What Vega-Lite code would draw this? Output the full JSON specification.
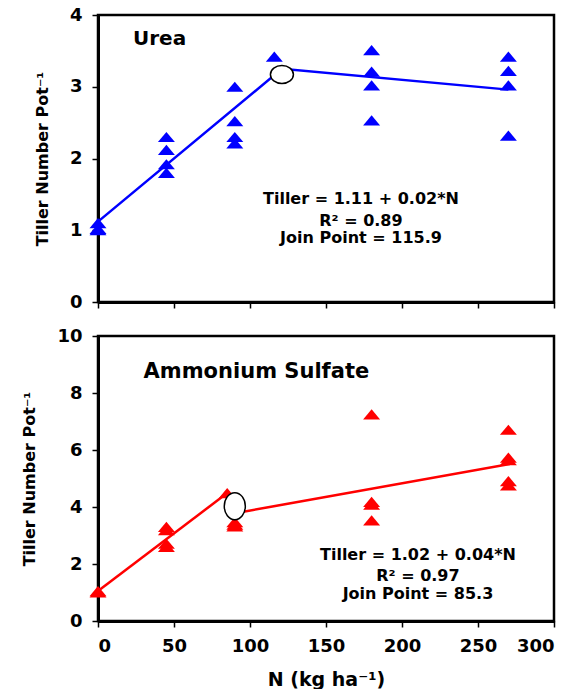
{
  "$schema": "https://vega.github.io/schema/vega-lite/v6.json",
  "padding": {"left": 20, "top": 4, "right": 5, "bottom": 5},
  "background": "white",
  "spacing": 12,
  "config": {
    "font": "DejaVu Sans",
    "view": {"stroke": "black", "strokeWidth": 2.5},
    "axis": {
      "domainColor": "black", "domainWidth": 3,
      "tickColor": "black", "tickWidth": 1.5, "tickSize": 6,
      "labelFont": "DejaVu Sans", "labelFontWeight": "bold", "labelFontSize": 18, "labelColor": "black",
      "titleFont": "DejaVu Sans", "titleFontWeight": "bold", "titleFontSize": 16, "titleColor": "black",
      "grid": false, "labelPadding": 10
    }
  },
  "vconcat": [
    {
      "width": 456, "height": 287,
      "encoding": {
        "x": {"field": "N", "type": "quantitative", "scale": {"domain": [0, 300], "nice": false},
              "axis": {"values": [0, 50, 100, 150, 200, 250, 300], "labels": false, "title": null}},
        "y": {"field": "T", "type": "quantitative", "scale": {"domain": [0, 4], "nice": false},
              "axis": {"values": [0, 1, 2, 3, 4], "title": "Tiller Number Pot⁻¹", "titlePadding": 19}}
      },
      "layer": [
        {
          "data": {"values": [{"N": 0, "T": 1.12}, {"N": 121, "T": 3.25}, {"N": 270, "T": 2.96}]},
          "mark": {"type": "line", "color": "#0000FF", "strokeWidth": 2.5}
        },
        {
          "data": {"values": [
            {"N": 0, "T": 1.0}, {"N": 0, "T": 1.02}, {"N": 0, "T": 1.1},
            {"N": 45, "T": 2.3}, {"N": 45, "T": 2.12}, {"N": 45, "T": 1.92}, {"N": 45, "T": 1.8},
            {"N": 90, "T": 3.0}, {"N": 90, "T": 2.52}, {"N": 90, "T": 2.3}, {"N": 90, "T": 2.21},
            {"N": 116, "T": 3.42},
            {"N": 180, "T": 3.51}, {"N": 180, "T": 3.21}, {"N": 180, "T": 3.02}, {"N": 180, "T": 2.53},
            {"N": 270, "T": 3.42}, {"N": 270, "T": 3.22}, {"N": 270, "T": 3.02}, {"N": 270, "T": 2.32}
          ]},
          "mark": {"type": "point", "shape": "M -1 0.6 L 1 0.6 L 0 -0.6 Z", "size": 289, "filled": true, "fill": "#0000FF", "opacity": 1, "strokeWidth": 0}
        },
        {
          "data": {"values": [{"N": 121, "T": 3.17}]},
          "mark": {"type": "point", "shape": "M -1 0 A 1 0.78 0 1 0 1 0 A 1 0.78 0 1 0 -1 0 Z", "size": 529, "filled": true, "fill": "white", "stroke": "black", "strokeWidth": 1.5, "opacity": 1}
        },
        {
          "data": {"values": [{"N": 23, "T": 3.67, "label": "Urea"}]},
          "mark": {"type": "text", "align": "left", "baseline": "middle", "fontSize": 20, "fontWeight": "bold", "color": "black"},
          "encoding": {"text": {"field": "label"}}
        },
        {
          "data": {"values": [
            {"N": 173, "T": 1.44, "label": "Tiller = 1.11 + 0.02*N"},
            {"N": 173, "T": 1.13, "label": "R² = 0.89"},
            {"N": 173, "T": 0.89, "label": "Join Point = 115.9"}
          ]},
          "mark": {"type": "text", "align": "center", "baseline": "middle", "fontSize": 16, "fontWeight": "bold", "color": "black"},
          "encoding": {"text": {"field": "label"}}
        }
      ]
    },
    {
      "width": 456, "height": 285,
      "encoding": {
        "x": {"field": "N", "type": "quantitative", "scale": {"domain": [0, 300], "nice": false},
              "axis": {"values": [0, 50, 100, 150, 200, 250, 300], "title": "N (kg ha⁻¹)", "titleFontSize": 19, "titlePadding": 15}},
        "y": {"field": "T", "type": "quantitative", "scale": {"domain": [0, 10], "nice": false},
              "axis": {"values": [0, 2, 4, 6, 8, 10], "title": "Tiller Number Pot⁻¹", "titlePadding": 19}}
      },
      "layer": [
        {
          "data": {"values": [
            {"N": 0, "T": 1.05, "seg": "a"}, {"N": 85, "T": 4.49, "seg": "a"},
            {"N": 92, "T": 3.8, "seg": "b"}, {"N": 271, "T": 5.51, "seg": "b"}
          ]},
          "mark": {"type": "line", "color": "#FF0000", "strokeWidth": 2.5},
          "encoding": {"detail": {"field": "seg"}}
        },
        {
          "data": {"values": [
            {"N": 0, "T": 1.0}, {"N": 0, "T": 1.05},
            {"N": 45, "T": 3.3}, {"N": 45, "T": 3.19}, {"N": 45, "T": 2.71}, {"N": 45, "T": 2.6},
            {"N": 85, "T": 4.49},
            {"N": 90, "T": 3.47}, {"N": 90, "T": 3.38}, {"N": 90, "T": 3.32},
            {"N": 180, "T": 7.25}, {"N": 180, "T": 4.18}, {"N": 180, "T": 4.08}, {"N": 180, "T": 3.53},
            {"N": 270, "T": 6.71}, {"N": 270, "T": 5.73}, {"N": 270, "T": 5.64}, {"N": 270, "T": 4.91}, {"N": 270, "T": 4.76}
          ]},
          "mark": {"type": "point", "shape": "M -1 0.6 L 1 0.6 L 0 -0.6 Z", "size": 289, "filled": true, "fill": "#FF0000", "opacity": 1, "strokeWidth": 0}
        },
        {
          "data": {"values": [{"N": 90, "T": 4.03}]},
          "mark": {"type": "point", "shape": "M -0.78 0 A 0.78 1 0 1 0 0.78 0 A 0.78 1 0 1 0 -0.78 0 Z", "size": 729, "filled": true, "fill": "white", "stroke": "black", "strokeWidth": 1.5, "opacity": 1}
        },
        {
          "data": {"values": [{"N": 30, "T": 8.74, "label": "Ammonium Sulfate"}]},
          "mark": {"type": "text", "align": "left", "baseline": "middle", "fontSize": 21, "fontWeight": "bold", "color": "black"},
          "encoding": {"text": {"field": "label"}}
        },
        {
          "data": {"values": [
            {"N": 210.5, "T": 2.32, "label": "Tiller = 1.02 + 0.04*N"},
            {"N": 210.5, "T": 1.58, "label": "R² = 0.97"},
            {"N": 210.5, "T": 0.94, "label": "Join Point = 85.3"}
          ]},
          "mark": {"type": "text", "align": "center", "baseline": "middle", "fontSize": 16, "fontWeight": "bold", "color": "black"},
          "encoding": {"text": {"field": "label"}}
        }
      ]
    }
  ]
}
